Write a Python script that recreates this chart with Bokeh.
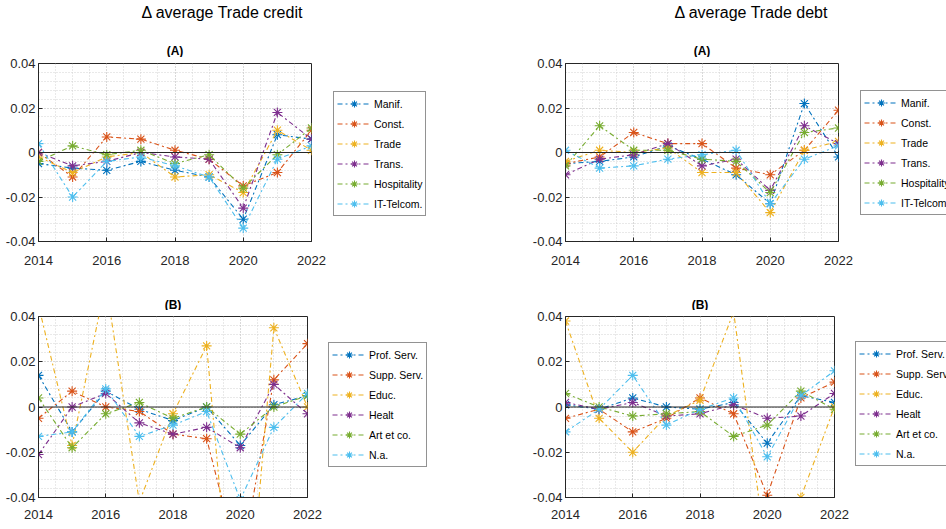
from bokeh.plotting import figure
from bokeh.models import (Legend, LegendItem, Span, Label, FixedTicker, Range1d,
                          CustomJSTickFormatter)
from bokeh.layouts import column, row
from bokeh.embed import file_html
from bokeh.resources import INLINE

# ---- data -------------------------------------------------------------
years = [2014, 2015, 2016, 2017, 2018, 2019, 2020, 2021, 2022]

sectors_a = ["Manif.", "Const.", "Trade", "Trans.", "Hospitality", "IT-Telcom."]
sectors_b = ["Prof. Serv.", "Supp. Serv.", "Educ.", "Healt", "Art et co.", "N.a."]

# Delta average trade credit, group A
credit_manif = [-0.005, -0.007, -0.008, -0.004, -0.008, -0.011, -0.030, 0.008, 0.006]
credit_const = [0.000, -0.011, 0.007, 0.006, 0.001, -0.003, -0.015, -0.009, 0.010]
credit_trade = [-0.002, -0.009, -0.002, 0.000, -0.011, -0.010, -0.018, 0.010, 0.001]
credit_trans = [0.000, -0.006, -0.004, 0.000, -0.002, -0.003, -0.025, 0.018, 0.006]
credit_hosp = [-0.004, 0.003, -0.001, 0.001, -0.005, -0.001, -0.016, -0.001, 0.011]
credit_it = [0.004, -0.020, -0.004, -0.002, -0.006, -0.011, -0.034, -0.003, 0.003]

# Delta average trade debt, group A
debt_manif = [-0.005, -0.004, -0.002, 0.003, -0.003, -0.010, -0.023, 0.022, -0.002]
debt_const = [-0.005, -0.002, 0.009, 0.004, 0.004, -0.007, -0.010, 0.001, 0.019]
debt_trade = [-0.004, 0.001, 0.000, 0.002, -0.009, -0.009, -0.027, 0.001, 0.005]
debt_trans = [-0.010, -0.003, -0.001, 0.004, -0.006, -0.003, -0.017, 0.012, 0.004]
debt_hosp = [-0.006, 0.012, 0.001, 0.001, -0.003, -0.004, -0.018, 0.009, 0.011]
debt_it = [0.001, -0.007, -0.006, -0.003, -0.001, 0.001, -0.023, -0.003, 0.003]

# Delta average trade credit, group B
credit_prof = [0.014, -0.011, 0.007, -0.001, -0.006, 0.000, -0.017, 0.001, 0.005]
credit_supp = [-0.005, 0.007, 0.000, -0.002, -0.012, -0.014, -0.072, 0.012, 0.028]
credit_educ = [0.045, -0.017, 0.055, -0.042, -0.003, 0.027, -0.135, 0.035, 0.000]
credit_healt = [-0.021, 0.000, 0.006, -0.007, -0.012, -0.009, -0.018, 0.010, -0.003]
credit_art = [0.004, -0.018, -0.003, 0.002, -0.005, 0.000, -0.012, 0.000, 0.005]
credit_na = [-0.013, -0.011, 0.008, -0.013, -0.008, -0.002, -0.041, -0.009, 0.006]

# Delta average trade debt, group B
debt_prof = [0.001, -0.001, 0.004, 0.000, -0.001, 0.002, -0.016, 0.005, 0.002]
debt_supp = [-0.005, -0.001, -0.011, -0.005, 0.004, -0.003, -0.039, 0.004, 0.011]
debt_educ = [0.038, -0.005, -0.020, -0.004, 0.003, 0.042, -0.068, -0.040, 0.000]
debt_healt = [0.002, -0.001, 0.002, -0.004, -0.003, 0.001, -0.005, -0.004, 0.006]
debt_art = [0.006, 0.000, -0.004, -0.003, -0.002, -0.013, -0.008, 0.007, -0.001]
debt_na = [-0.011, -0.001, 0.014, -0.008, -0.001, 0.004, -0.022, 0.005, 0.016]

x_ticks = [2014, 2016, 2018, 2020, 2022]
y_ticks = [-0.04, -0.02, 0, 0.02, 0.04]

# ---- styling ----------------------------------------------------------
COLORS = ["#0072BD", "#D95319", "#EDB120", "#7E2F8E", "#77AC30", "#4DBEEE"]
FONT = "Liberation Sans"
AX = "#262626"
DASH = "5 3 2 3"
MARK = 10


def blank(width, height):
    """A figure whose frame fills the whole canvas, used for text and legends."""
    f = figure(width=width, height=height, x_range=Range1d(0, width),
               y_range=Range1d(0, height), min_border=0,
               x_axis_location=None, y_axis_location=None,
               output_backend="svg", toolbar_location=None)
    f.min_border_left = f.min_border_right = 0
    f.min_border_top = f.min_border_bottom = 0
    f.xgrid.visible = False
    f.ygrid.visible = False
    f.outline_line_color = None
    f.background_fill_color = "white"
    f.border_fill_color = "white"
    return f


def header(width, height, texts):
    h = blank(width, height)
    for text, cx, cy, size, style in texts:
        h.add_layout(Label(x=cx, y=height - cy, text=text, text_align="center",
                           text_baseline="middle", text_font=FONT,
                           text_font_size=size, text_font_style=style,
                           text_color="#000000"))
    return h


def draw_series(fig, vals, color, visible=True):
    r_line = fig.line(years, vals, line_color=color, line_width=1.1,
                      line_dash=DASH, visible=visible)
    r_mark = fig.scatter(years, vals, marker="asterisk", size=MARK,
                         line_color=color, line_width=1.1, visible=visible)
    return r_line, r_mark


def chart(width, height, left, right, top, bottom, series, label_gap):
    p = figure(width=width, height=height,
               min_border_left=left, min_border_right=right,
               min_border_top=top, min_border_bottom=bottom,
               x_range=Range1d(2014, 2022), y_range=Range1d(-0.04, 0.04),
               output_backend="svg", toolbar_location=None)
    p.background_fill_color = "white"
    p.border_fill_color = "white"
    p.outline_line_color = AX
    p.outline_line_width = 1
    p.outline_line_alpha = 1

    p.xaxis.ticker = FixedTicker(ticks=x_ticks,
                                 minor_ticks=[2014 + 0.5 * i for i in range(17)])
    p.yaxis.ticker = FixedTicker(ticks=y_ticks,
                                 minor_ticks=[-0.04 + 0.004 * i for i in range(21)])
    p.yaxis.formatter = CustomJSTickFormatter(
        code="return String(Math.round(tick * 100) / 100)")
    for ax in (p.xaxis, p.yaxis):
        ax.axis_line_color = AX
        ax.major_tick_in = 4
        ax.major_tick_out = 0
        ax.minor_tick_in = 0
        ax.minor_tick_out = 0
        ax.major_tick_line_color = AX
        ax.major_label_text_font = FONT
        ax.major_label_text_font_size = "13px"
        ax.major_label_text_color = AX
    p.xaxis.major_label_standoff = label_gap
    p.yaxis.major_label_standoff = 3

    for g in (p.xgrid, p.ygrid):
        g.grid_line_color = "#c0c0c0"
        g.grid_line_dash = "1 2"
        g.grid_line_alpha = 0.8
        g.minor_grid_line_color = "#c8c8c8"
        g.minor_grid_line_dash = "1 2"
        g.minor_grid_line_alpha = 0.8

    p.add_layout(Span(location=0, dimension="width", line_color=AX, line_width=1.2))

    for vals, color in zip(series, COLORS):
        draw_series(p, vals, color)
    return p


def legend_box(width, height, names, series, xy):
    # hidden copies of the series supply the legend glyphs
    f = blank(width, height)
    items = []
    for name, vals, color in zip(names, series, COLORS):
        r_line, r_mark = draw_series(f, vals, color, visible=False)
        items.append(LegendItem(label=name, renderers=[r_line, r_mark]))
    legend = Legend(items=items, location=xy)
    legend.margin = 0
    legend.padding = 3
    legend.spacing = 3
    legend.glyph_width = 34
    legend.glyph_height = 17
    legend.label_height = 17
    legend.label_standoff = 3
    legend.label_text_font = FONT
    legend.label_text_font_size = "10.5px"
    legend.label_text_color = "#000000"
    legend.border_line_color = AX
    legend.border_line_width = 1
    legend.background_fill_alpha = 1
    f.add_layout(legend)
    return f


credit_a = [credit_manif, credit_const, credit_trade, credit_trans, credit_hosp, credit_it]
debt_a = [debt_manif, debt_const, debt_trade, debt_trans, debt_hosp, debt_it]
credit_b = [credit_prof, credit_supp, credit_educ, credit_healt, credit_art, credit_na]
debt_b = [debt_prof, debt_supp, debt_educ, debt_healt, debt_art, debt_na]

top_head = header(946, 57, [
    ("\u0394 average Trade credit", 222, 12, "16px", "normal"),
    ("\u0394 average Trade debt", 751, 12, "16px", "normal"),
    ("(A)", 174.5, 50, "12px", "bold"),
    ("(A)", 701.5, 50, "12px", "bold"),
])
bottom_head = header(946, 40, [
    ("(B)", 172.5, 34, "12px", "bold"),
    ("(B)", 699.5, 34, "12px", "bold"),
])

row_a = row(
    chart(328, 213, 38, 17, 6, 29, credit_a, 14),
    legend_box(142, 213, sectors_a, credit_a, (5, 25)),
    chart(385, 213, 95, 17, 6, 29, debt_a, 14),
    legend_box(91, 213, sectors_a, debt_a, (5, 26)),
)
row_b = row(
    chart(324, 219, 38, 17, 6, 32, credit_b, 12),
    legend_box(146, 219, sectors_b, credit_b, (4, 30)),
    chart(381, 219, 95, 17, 6, 32, debt_b, 12),
    legend_box(95, 219, sectors_b, debt_b, (4, 31)),
)

page = column(top_head, row_a, bottom_head, row_b)

open("out.html", "w").write(file_html(page, INLINE))
